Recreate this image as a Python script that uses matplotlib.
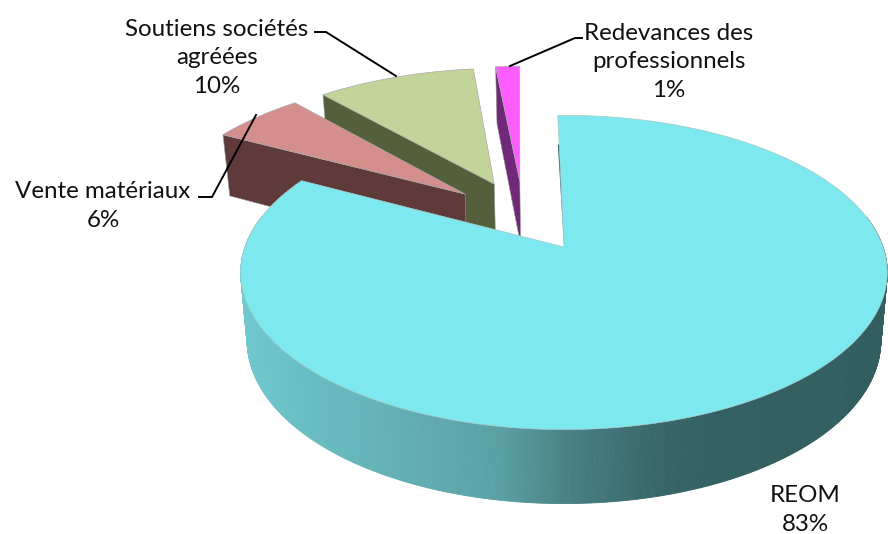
import numpy as np
import matplotlib
matplotlib.use("Agg")
import matplotlib.pyplot as plt
from matplotlib.patches import Polygon

plt.rcParams['font.family'] = ['Lato', 'DejaVu Sans']

# Data
categories = ["REOM", "Vente matériaux", "Soutiens sociétés\nagréées", "Redevances des\nprofessionnels"]
values = [83.08, 5.67, 9.76, 1.49]
top_colors = ["#7DE9EE", "#D48F8D", "#C3D49A", "#FF5CFF"]
wall_colors = ["#2F5E60", "#5E3A3A", "#555F3C", "#702878"]

# Layout of the projected pie (pixel space)
APEX = (564.0, 247.0)
RX, RY, K = 319.0, 153.0, 0.162
EXPLODE = 0.25
START = -1.3
DEPTH0, DEPTH1 = 67.0, 7.0
XSHRINK = 0.98

angles = np.concatenate([[0], np.cumsum(values)]) / sum(values) * 360 + START
mids = (angles[:-1] + angles[1:]) / 2
pivot = EXPLODE * np.array([np.sin(np.radians(mids[0])), np.cos(np.radians(mids[0]))])


def project(u, v):
    w = 1 + K * v
    return APEX[0] + RX * u / w, APEX[1] - RY * v / w


def lower(x, y, v):
    return APEX[0] + (x - APEX[0]) * XSHRINK, y + DEPTH0 - DEPTH1 * v


def centre(i):
    mid = np.radians(mids[i])
    return EXPLODE * np.sin(mid) - pivot[0], EXPLODE * np.cos(mid) - pivot[1]


def slice_points(i, theta):
    t = np.radians(theta)
    cu, cv = centre(i)
    return cu + np.sin(t), cv + np.cos(t)


fig = plt.figure(figsize=(8.88, 5.34), dpi=100, facecolor="white")
ax = fig.add_axes([0, 0, 1, 1])
ax.set_xlim(0, 888)
ax.set_ylim(534, 0)
ax.axis("off")

# Exploded small slices, back to front
for i in [3, 2, 1]:
    th = np.linspace(angles[i], angles[i + 1], 40)
    u, v = slice_points(i, th)
    x, y = project(u, v)
    cu, cv = centre(i)
    cx, cy = project(cu, cv)
    # Wall along the left radial edge
    bx0, by0 = lower(x[0], y[0], v[0])
    bx1, by1 = lower(cx, cy, cv)
    ax.add_patch(Polygon([(x[0], y[0]), (cx, cy), (bx1, by1), (bx0, by0)],
                         closed=True, fc=wall_colors[i], ec="#9a9a9a", lw=0.4, zorder=2 + (3 - i)))
    ax.add_patch(Polygon(np.column_stack([np.r_[cx, x], np.r_[cy, y]]),
                         closed=True, fc=top_colors[i], ec="#a8a8a8", lw=0.5, zorder=2 + (3 - i)))

# Main slice: side wall shaded along x
shade_x = [241, 300, 400, 500, 560, 610, 660, 720, 888]
shade_c = np.array([[112, 200, 206], [104, 190, 195], [98, 176, 180], [90, 160, 165],
                    [74, 132, 136], [64, 116, 120], [56, 102, 104], [51, 96, 98], [50, 94, 96]], float)
th = np.linspace(angles[0], angles[1], 700)
u, v = slice_points(0, th)
x, y = project(u, v)
bx, by = lower(x, y, v)
for j in range(len(th) - 1):
    if y[j] < APEX[1] - 30 and y[j + 1] < APEX[1] - 30:
        continue
    xm = (x[j] + x[j + 1]) / 2
    col = [np.interp(xm, shade_x, shade_c[:, c]) / 255 for c in range(3)]
    ax.add_patch(Polygon([(x[j], y[j]), (x[j + 1], y[j + 1]), (bx[j + 1], by[j + 1]), (bx[j], by[j])],
                         closed=True, fc=col, ec=col, lw=0.6, zorder=6))

cu, cv = centre(0)
cx, cy = project(cu, cv)
ax.add_patch(Polygon(np.column_stack([np.r_[cx, x], np.r_[cy, y]]),
                     closed=True, fc=top_colors[0], ec="#a8c8c8", lw=0.5, zorder=7))
# Thin shaded sliver on the notch edge of the main slice
ax.plot([x[0] + 1.0, cx + 1.0], [y[0] + 30, cy], color=wall_colors[0], lw=1.3, zorder=6.5)

# Leader lines
ax.plot([315, 326, 396], [32, 32, 76], color="black", lw=1.4, zorder=9)
ax.plot([199, 212, 256], [197, 197, 115], color="black", lw=1.4, zorder=9)
ax.plot([582, 575, 510], [38, 38, 66], color="black", lw=1.4, zorder=9)

# Labels
label_pos = [(805, 510), (103, 206), (217, 58), (669, 62)]
for name, val, (lx, ly) in zip(categories, values, label_pos):
    ax.text(lx, ly, f"{name}\n{val:.0f}%", ha="center", va="center", fontsize=17.4,
            linespacing=1.46, color="#111111", zorder=10)

fig.savefig("out.png", dpi=100)
